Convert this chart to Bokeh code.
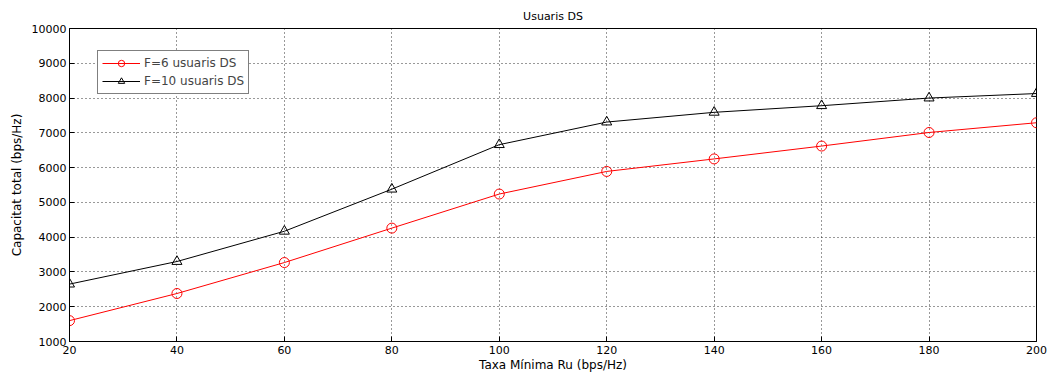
from bokeh.plotting import figure
from bokeh.models import FixedTicker, Legend, LegendItem, Range1d
from bokeh.embed import file_html
from bokeh.resources import INLINE

x_vals = [20, 40, 60, 80, 100, 120, 140, 160, 180, 200]
f6_vals = [1600, 2380, 3270, 4260, 5240, 5890, 6250, 6620, 7010, 7290]
f10_vals = [2650, 3300, 4170, 5380, 6660, 7310, 7590, 7780, 8000, 8130]
x_ticks = [20, 40, 60, 80, 100, 120, 140, 160, 180, 200]
y_ticks = [1000, 2000, 3000, 4000, 5000, 6000, 7000, 8000, 9000, 10000]
title_text = "Usuaris DS"

FONT = "DejaVu Sans"

p = figure(width=1051, height=378, output_backend="svg", toolbar_location=None,
           x_range=Range1d(20, 200), y_range=Range1d(1000, 10000),
           min_border_left=69, min_border_right=15, min_border_top=28, min_border_bottom=37)
p.title.text = title_text
p.title.align = "center"
p.title.vertical_align = "middle"
p.title.text_font = FONT
p.title.text_font_size = "11px"
p.title.text_font_style = "normal"
p.title.text_color = "black"
p.outline_line_color = "black"
p.outline_line_width = 1
p.background_fill_color = "white"
p.border_fill_color = "white"

for ax in [p.xaxis[0], p.yaxis[0]]:
    ax.major_tick_in = 5
    ax.major_tick_out = 0
    ax.minor_tick_in = 0
    ax.minor_tick_out = 0
    ax.axis_line_color = "black"
    ax.major_tick_line_color = "black"
    ax.major_label_text_font = FONT
    ax.major_label_text_font_size = "11px"
    ax.major_label_text_color = "black"
    ax.axis_label_text_font = FONT
    ax.axis_label_text_font_size = "12px"
    ax.axis_label_text_font_style = "normal"
    ax.axis_label_text_color = "black"

p.xaxis[0].ticker = FixedTicker(ticks=x_ticks)
p.yaxis[0].ticker = FixedTicker(ticks=y_ticks)
p.xaxis[0].axis_label = "Taxa Mínima Ru (bps/Hz)"
p.yaxis[0].axis_label = "Capacitat total (bps/Hz)"
p.xaxis[0].major_label_standoff = 4
p.yaxis[0].major_label_standoff = 3
p.xaxis[0].axis_label_standoff = 1
p.yaxis[0].axis_label_standoff = 5

p.xgrid.ticker = FixedTicker(ticks=x_ticks)
p.ygrid.ticker = FixedTicker(ticks=y_ticks)
for g in [p.xgrid[0], p.ygrid[0]]:
    g.grid_line_color = "black"
    g.grid_line_dash = "1 3"
    g.grid_line_width = 1
    g.grid_line_alpha = 0.8

r1l = p.line(x_vals, f6_vals, line_color="red", line_width=1)
r1m = p.scatter(x_vals, f6_vals, marker="circle", size=10, line_color="red",
                fill_color=None, line_width=1)
r2l = p.line(x_vals, f10_vals, line_color="black", line_width=1)
r2m = p.scatter(x_vals, f10_vals, marker="triangle", size=10, line_color="black",
                fill_color=None, line_width=1)

legend = Legend(items=[LegendItem(label="F=6 usuaris DS", renderers=[r1l, r1m]),
                       LegendItem(label="F=10 usuaris DS", renderers=[r2l, r2m])],
                location=(28, 247))
legend.label_text_font = FONT
legend.label_text_font_size = "12px"
legend.glyph_width = 38
legend.glyph_height = 16
legend.label_height = 16
legend.spacing = 2
legend.padding = 4
legend.margin = 0
legend.label_standoff = 4
legend.border_line_color = "black"
legend.border_line_width = 1
legend.background_fill_alpha = 1
p.add_layout(legend, "center")

open("out.html", "w").write(file_html(p, INLINE))
